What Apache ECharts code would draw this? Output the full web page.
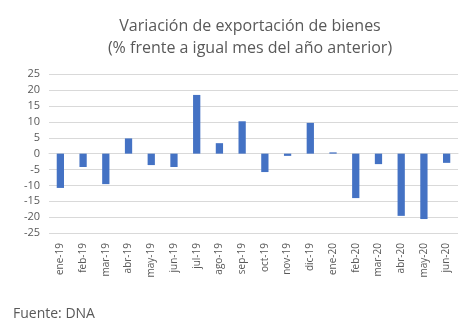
<!DOCTYPE html>
<html><head><meta charset="utf-8">
<script src="https://cdn.jsdelivr.net/npm/echarts@6/dist/echarts.min.js"></script>
<style>html,body{margin:0;padding:0;background:#fff}#c{width:463px;height:321px}</style>
</head><body><div id="c"></div>
<script>
const categories = ["ene-19","feb-19","mar-19","abr-19","may-19","jun-19","jul-19","ago-19","sep-19","oct-19","nov-19","dic-19","ene-20","feb-20","mar-20","abr-20","may-20","jun-20"];
const values = [-10.8,-4.2,-9.6,4.8,-3.6,-4.2,18.5,3.3,10.2,-5.8,-0.7,9.7,0.4,-14.0,-3.3,-19.6,-20.6,-2.9];
const titleLines = ["Variación de exportación de bienes","(% frente a igual mes del año anterior)"];
const sourceText = "Fuente: DNA";
const FONT = "'Open Sans', 'Liberation Sans', sans-serif";
const chart = echarts.init(document.getElementById('c'), null, {renderer:'canvas'});
chart.setOption({
  animation:false,
  backgroundColor:'#fff',
  title:[{
    text: titleLines.join('\n'),
    left: 245, top: 10, textAlign:'center',
    textStyle:{color:'#595959', fontSize:16, fontWeight:'normal', fontFamily:FONT, lineHeight:22}
  },{
    text: sourceText, left: 8, top: 302,
    textStyle:{color:'#595959', fontSize:14, fontWeight:'normal', fontFamily:FONT}
  }],
  grid:{left:49, right:5, top:74.3, height:158.7},
  xAxis:{
    type:'category', data:categories,
    axisLine:{show:true, lineStyle:{color:'#d9d9d9'}},
    axisTick:{show:false},
    axisLabel:{rotate:90, color:'#595959', fontSize:10, fontFamily:FONT, interval:0, margin:10}
  },
  yAxis:{
    type:'value', min:-25, max:25, interval:5,
    axisLine:{show:false}, axisTick:{show:false},
    splitLine:{lineStyle:{color:'#d9d9d9'}},
    axisLabel:{color:'#595959', fontSize:11, fontFamily:FONT, margin:9}
  },
  series:[{type:'bar', data:values, barWidth:'32%', itemStyle:{color:'#4472c4'}}]
});
</script></body></html>
